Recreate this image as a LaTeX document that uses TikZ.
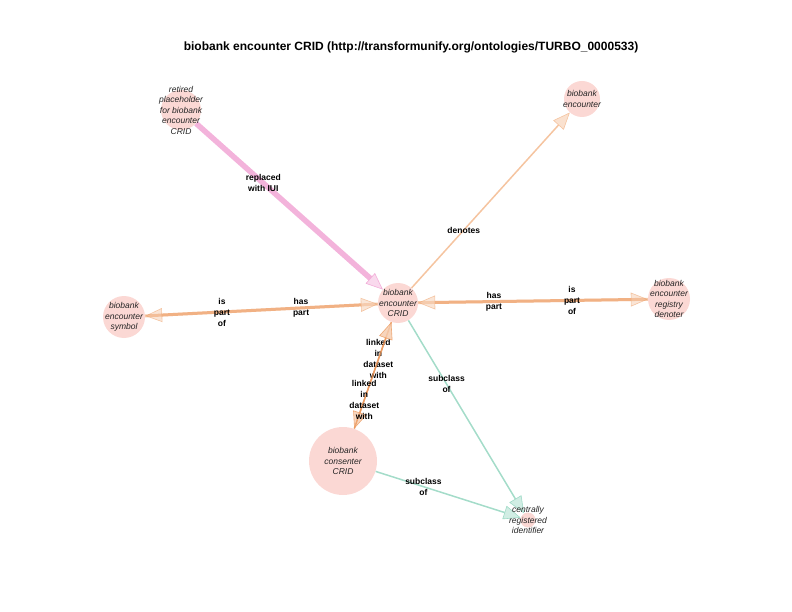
\documentclass[tikz,border=0pt]{standalone}
\usepackage{fontspec}
\setmainfont{Liberation Sans}
\usetikzlibrary{arrows.meta,backgrounds}

\definecolor{nodefill}{RGB}{251,216,212}
\definecolor{pinkedge}{RGB}{240,160,210}
\definecolor{orangelt}{RGB}{245,196,160}
\definecolor{orangedk}{RGB}{236,152,92}
\definecolor{tealedge}{RGB}{148,214,192}

\begin{document}
\begin{tikzpicture}[
  x=1pt, y=-1pt,
  term/.style={circle, fill=nodefill, inner sep=0pt, minimum size=#1},
  termtext/.style={font=\fontsize{8.5}{10.5}\selectfont\itshape, align=center, text=black!85},
  edgelabel/.style={font=\fontsize{8.5}{11}\selectfont\bfseries, align=center, pos=0.33, inner sep=0.5pt, opacity=1, text opacity=1},
  headed/.style={-{Triangle[length=17pt,width=14pt,line width=0.6pt,fill=#1!50!white]}},
  replaced/.style={headed=pinkedge, draw=pinkedge, line width=5.5pt, opacity=0.8},
  denotes/.style={headed=orangelt, draw=orangelt, line width=1.5pt},
  partof/.style={headed=orangedk, draw=orangedk, line width=3pt, opacity=0.5},
  linked/.style={headed=orangedk, draw=orangedk, line width=1.5pt, opacity=0.8},
  subclass/.style={headed=tealedge, draw=tealedge, line width=1.5pt, opacity=0.85}
]
\useasboundingbox (0,0) rectangle (792,612);

% Title
\node[font=\fontsize{12}{14}\selectfont\bfseries] (title) at (411,47) {biobank encounter CRID (http://transformunify.org/ontologies/TURBO\_0000533)};

% Terms
\node[term=40pt, label={[termtext]center:biobank\\encounter\\CRID}] (crid) at (398,303) {};
\node[term=40pt, label={[termtext]center:retired\\placeholder\\for biobank\\encounter\\CRID}] (retired) at (181,110) {};
\node[term=36pt, label={[termtext]center:biobank\\encounter}] (encounter) at (582,99) {};
\node[term=42pt, label={[termtext]center:biobank\\encounter\\symbol}] (symbol) at (124,317) {};
\node[term=42pt, label={[termtext]center:biobank\\encounter\\registry\\denoter}] (registry) at (669,299) {};
\node[term=68pt, label={[termtext]center:biobank\\consenter\\CRID}] (consenter) at (343,461) {};
\node[term=15pt, label={[termtext]center:centrally\\registered\\identifier}] (central) at (528,520) {};

\begin{pgfonlayer}{background}
% Outgoing from the retired placeholder
\draw[replaced] (retired) -- node[edgelabel, pos=0.36] {replaced\\with IUI} (crid);

% CRID relations
\draw[denotes] (crid) -- node[edgelabel] {denotes} (encounter);
\draw[partof] (crid) -- node[edgelabel] {has\\part} (symbol);
\draw[partof] (symbol) -- node[edgelabel] {is\\part\\of} (crid);
\draw[partof] (crid) -- node[edgelabel] {has\\part} (registry);
\draw[partof] (registry) -- node[edgelabel] {is\\part\\of} (crid);
\draw[linked] (crid) -- node[edgelabel, pos=0.35] {linked\\in\\dataset\\with} (consenter);
\draw[linked] (consenter) -- node[edgelabel, pos=0.27] {linked\\in\\dataset\\with} (crid);

% Subclass edges
\draw[subclass] (crid) -- node[edgelabel] {subclass\\of} (central);
\draw[subclass] (consenter) -- node[edgelabel] {subclass\\of} (central);
\end{pgfonlayer}

\end{tikzpicture}
\end{document}
